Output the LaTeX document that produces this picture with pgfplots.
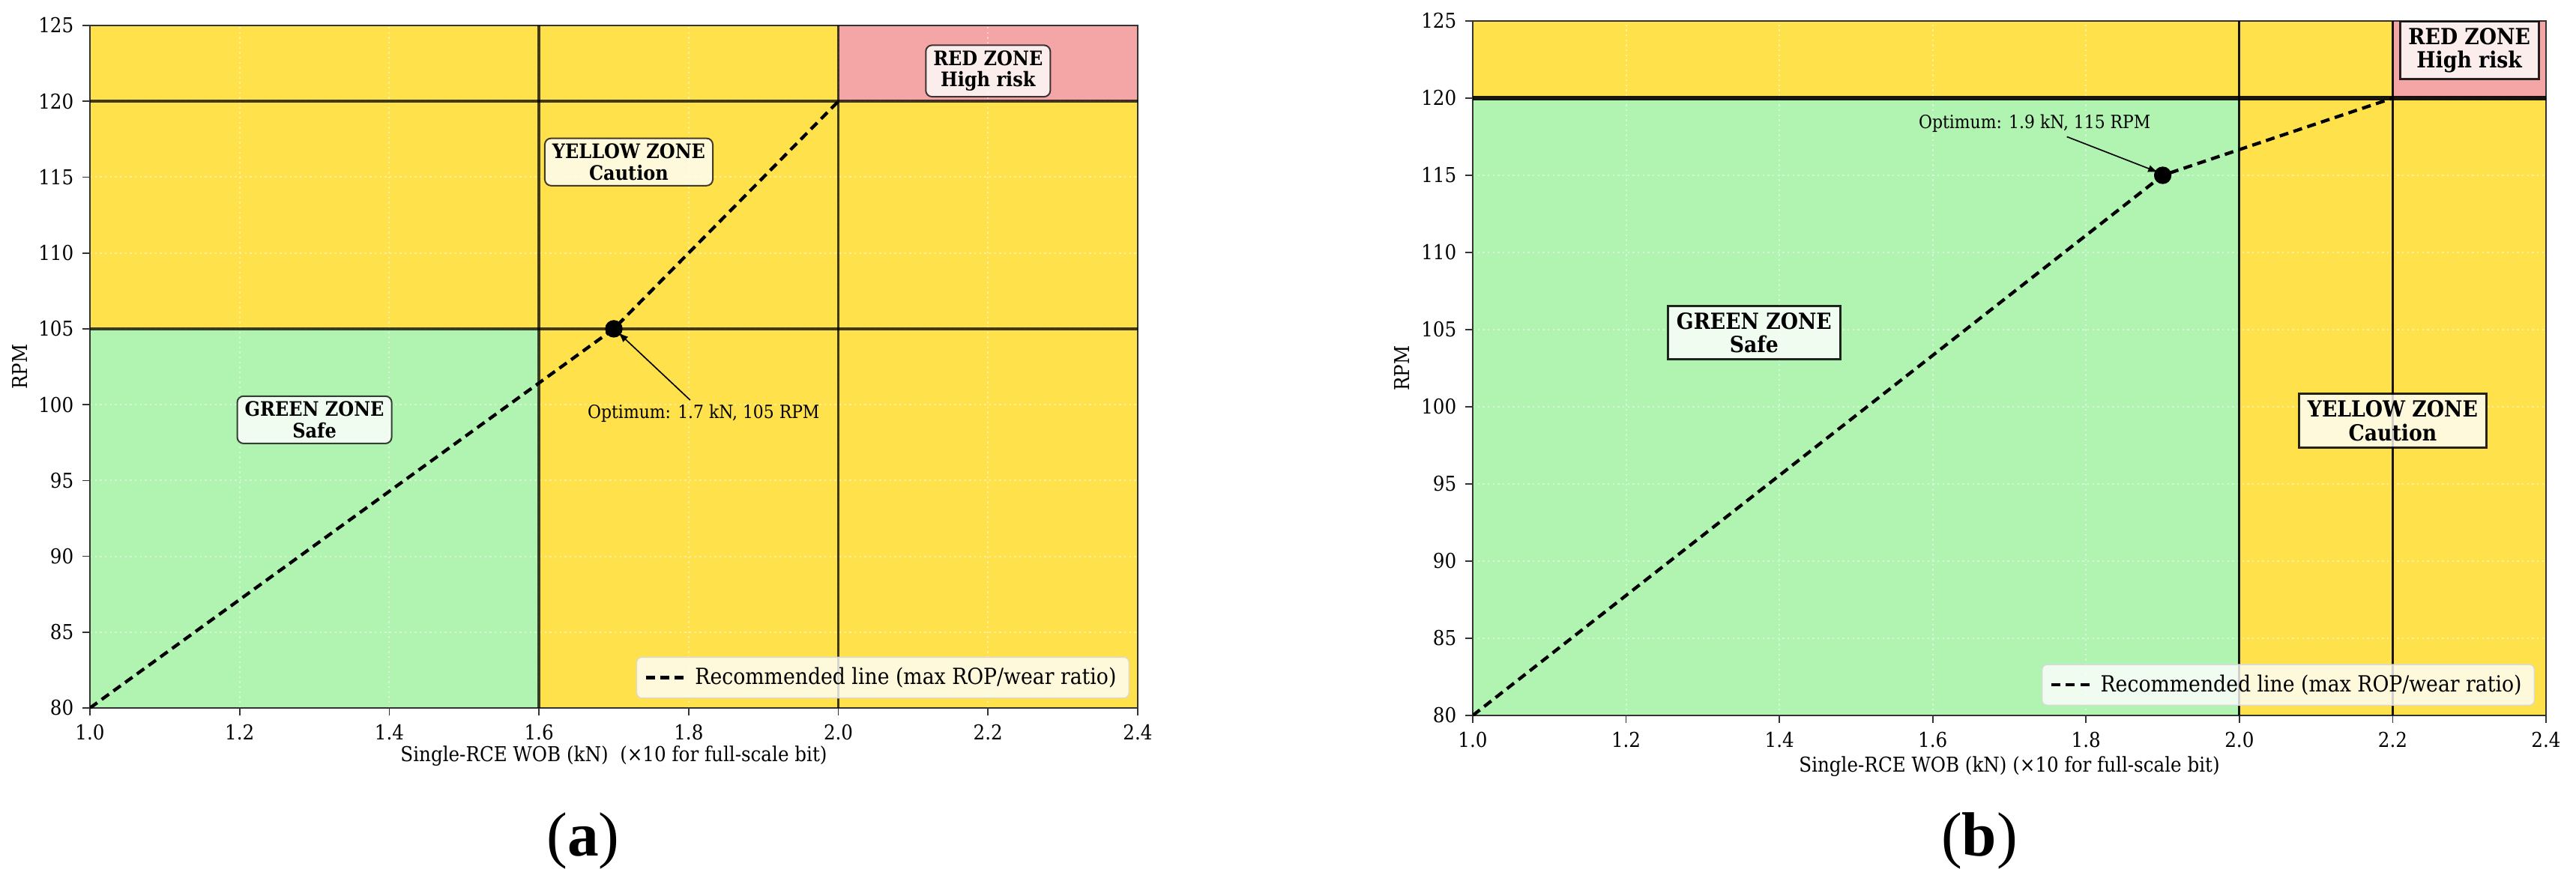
\documentclass[border=0pt]{standalone}
\usepackage{fontspec}
\setmainfont{DejaVu Serif}[FakeStretch=0.9]
\newfontfamily\capfont{Liberation Serif}
\usepackage{pgfplots}
\pgfplotsset{compat=1.18}
\usetikzlibrary{arrows.meta}

\definecolor{zyellow}{RGB}{255,226,75}
\definecolor{zgreen}{RGB}{177,244,177}
\definecolor{zred}{RGB}{244,166,166}

\pgfplotsset{
  common/.style={
    scale only axis,
    set layers,
    xmin=1, xmax=2.4, ymin=80, ymax=125,
    xtick={1,1.2,1.4,1.6,1.8,2,2.2,2.4},
    ytick={80,85,90,95,100,105,110,115,120,125},
    xticklabel style={/pgf/number format/.cd, fixed, fixed zerofill, precision=1},
    /pgf/number format/assume math mode=true,
    tick pos=left, tick align=outside, major tick length=3pt,
    tick style={black!80, line width=0.5pt},
    axis line style={black!80, line width=0.6pt},
    grid=major,
    major grid style={draw=white, opacity=0.45, dash pattern=on 0.7pt off 1.3pt, line width=0.6pt},
    ticklabel style={font=\fontsize{8.2}{9}\selectfont},
    label style={font=\fontsize{8.2}{9}\selectfont},
    ylabel={RPM},
    legend cell align=left,
    legend style={fill=white, fill opacity=0.8, draw opacity=1, text opacity=1,
      draw=black!15, rounded corners=2pt, font=\fontsize{8.9}{9.6}\selectfont,
      inner xsep=3pt, inner ysep=2pt},
  },
}
\tikzset{
  zoneA/.style={draw=black, draw opacity=0.75, fill=white, fill opacity=0.8, text opacity=1,
    rounded corners=2.5pt, line width=0.6pt, align=center,
    font=\fontsize{8}{8.5}\selectfont\bfseries, inner xsep=3pt, inner ysep=2.2pt},
  zoneB/.style={draw=black, draw opacity=0.85, fill=white, fill opacity=0.8, text opacity=1,
    line width=0.9pt, align=center,
    font=\fontsize{8.9}{9.4}\selectfont\bfseries, inner xsep=3.4pt, inner ysep=2.6pt},
  annot/.style={font=\fontsize{7.3}{8}\selectfont},
}

\begin{document}
\begin{tikzpicture}

% ---------------- (a) ----------------
\begin{axis}[common,
  at={(36pt,73.8pt)}, anchor=south west,
  width=419.4pt, height=273.3pt,
  xlabel={Single-RCE WOB (kN)\ \ (×10 for full-scale bit)},
  xlabel style={at={(axis description cs:0.5,-0.070)}, anchor=center},
  ylabel style={at={(axis description cs:-0.0665,0.5)}, anchor=center},
  legend style={at={(0.992,0.014)}, anchor=south east},
]
\addplot[on layer=axis background, draw=none, fill=zyellow, forget plot]
  coordinates {(1,80) (2.4,80) (2.4,125) (1,125) (1,80)};
\addplot[on layer=axis background, draw=none, fill=zgreen, forget plot]
  coordinates {(1,80) (1.6,80) (1.6,105) (1,105) (1,80)};
\addplot[on layer=axis background, draw=none, fill=zred, forget plot]
  coordinates {(2,120) (2.4,120) (2.4,125) (2,125) (2,120)};
\addplot[black, opacity=0.75, line width=1.3pt, forget plot] coordinates {(1,105) (2.4,105)};
\addplot[black, opacity=0.75, line width=1.3pt, forget plot] coordinates {(1,120) (2.4,120)};
\addplot[black, opacity=0.75, line width=1.0pt, forget plot] coordinates {(1.6,80) (1.6,125)};
\addplot[black, opacity=0.75, line width=1.0pt, forget plot] coordinates {(2,80) (2,125)};
\addplot[black, line width=1.3pt, dash pattern=on 3.6pt off 2.2pt]
  coordinates {(1,80) (1.7,105) (2,120)};
\addlegendentry{Recommended line (max ROP/wear ratio)}
\addplot[only marks, mark=*, mark size=3.3pt, black, forget plot] coordinates {(1.7,105)};
\draw[-{Latex[length=4pt,width=3pt]}, line width=0.5pt] (axis cs:1.802,100.3) -- (axis cs:1.706,104.75);
\node[annot] at (axis cs:1.82,99.4) {Optimum: 1.7 kN, 105 RPM};
\node[zoneA] at (axis cs:1.30,99.0) {GREEN ZONE\\Safe};
\node[zoneA] at (axis cs:1.72,116.0) {YELLOW ZONE\\Caution};
\node[zoneA] at (axis cs:2.20,122.0) {RED ZONE\\High risk};
\end{axis}

% ---------------- (b) ----------------
\begin{axis}[common,
  at={(589.5pt,70.8pt)}, anchor=south west,
  width=429.6pt, height=278.1pt,
  xlabel={Single-RCE WOB (kN) (×10 for full-scale bit)},
  xlabel style={at={(axis description cs:0.5,-0.074)}, anchor=center},
  ylabel style={at={(axis description cs:-0.0658,0.5)}, anchor=center},
  legend style={at={(0.9895,0.014)}, anchor=south east},
]
\addplot[on layer=axis background, draw=none, fill=zyellow, forget plot]
  coordinates {(1,80) (2.4,80) (2.4,125) (1,125) (1,80)};
\addplot[on layer=axis background, draw=none, fill=zgreen, forget plot]
  coordinates {(1,80) (2,80) (2,120) (1,120) (1,80)};
\addplot[on layer=axis background, draw=none, fill=zred, forget plot]
  coordinates {(2.2,120) (2.4,120) (2.4,125) (2.2,125) (2.2,120)};
\addplot[black, opacity=0.9, line width=1.6pt, forget plot] coordinates {(1,120) (2.4,120)};
\addplot[black, opacity=0.9, line width=0.9pt, forget plot] coordinates {(2,80) (2,125)};
\addplot[black, opacity=0.9, line width=0.9pt, forget plot] coordinates {(2.2,80) (2.2,125)};
\addplot[black, line width=1.3pt, dash pattern=on 3.6pt off 2.2pt]
  coordinates {(1,80) (1.9,115) (2.2,120)};
\addlegendentry{Recommended line (max ROP/wear ratio)}
\addplot[only marks, mark=*, mark size=3.3pt, black, forget plot] coordinates {(1.9,115)};
\draw[-{Latex[length=4pt,width=3pt]}, line width=0.5pt] (axis cs:1.775,117.5) -- (axis cs:1.894,115.2);
\node[annot] at (axis cs:1.733,118.35) {Optimum: 1.9 kN, 115 RPM};
\node[zoneB] at (axis cs:1.367,104.8) {GREEN ZONE\\Safe};
\node[zoneB] at (axis cs:2.20,99.1) {YELLOW ZONE\\Caution};
\node[zoneB] at (axis cs:2.30,123.1) {RED ZONE\\High risk};
\end{axis}

\node[font=\capfont\fontsize{25}{28}\selectfont] at (233.4pt,20.7pt) {(\textbf{a})};
\node[font=\capfont\fontsize{25}{28}\selectfont] at (792.3pt,20.7pt) {(\textbf{b})};

\pgfresetboundingbox
\path[use as bounding box] (0,0) rectangle (1031.1pt,357.3pt);
\end{tikzpicture}
\end{document}
